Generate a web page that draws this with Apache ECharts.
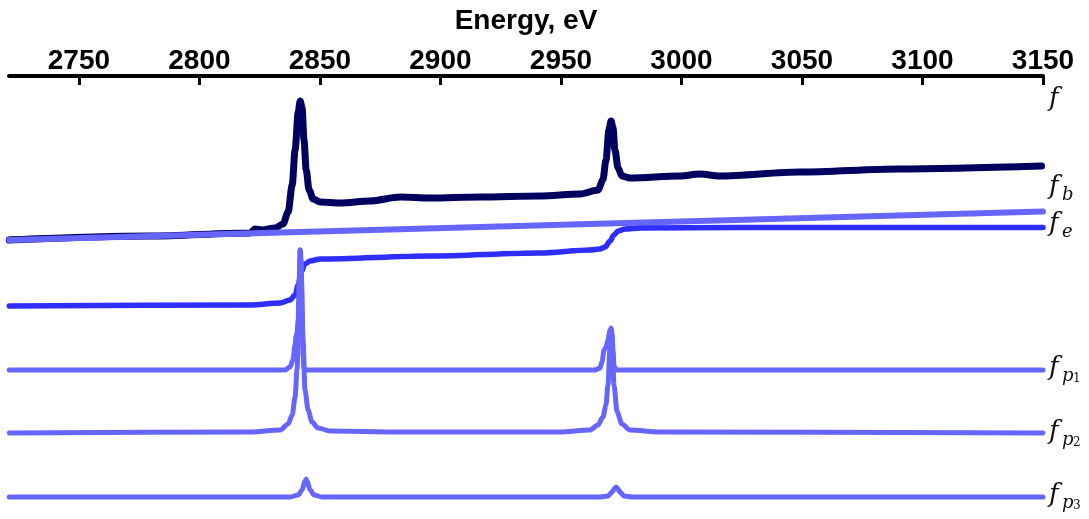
<!DOCTYPE html>
<html>
<head>
<meta charset="utf-8">
<script src="https://cdn.jsdelivr.net/npm/echarts@6/dist/echarts.min.js"></script>
<style>
  html, body { margin: 0; padding: 0; background: #fff; }
  #main { width: 1089px; height: 519px; }
</style>
</head>
<body>
<div id="main"></div>
<script>
// tick labels on the top energy axis
var tickLabels = [2750, 2800, 2850, 2900, 2950, 3000, 3050, 3100, 3150];

var dataE = [2721.1, 2779.6, 2821.0, 2823.1, 2826.0, 2831.4, 2834.7, 2836.8, 2838.5, 2839.7, 2841.0, 2841.8, 2842.6, 2843.4, 2844.3, 2845.5, 2847.2, 2850.1, 2858.4, 2870.8, 2883.3, 2895.7, 2916.4, 2941.3, 2957.9, 2965.4, 2967.4, 2968.7, 2969.9, 2970.8, 2971.6, 2972.4, 2973.7, 2975.3, 2978.6, 2999.4, 3007.6, 3015.9, 3049.1, 3090.6, 3149.4];
var dataV = [272.5, 275.5, 278.5, 283, 281, 283, 287, 298, 325, 360, 398, 409, 402, 370, 340, 320, 310, 306, 305, 308, 315, 313, 313, 314, 316, 320, 330, 350, 380, 389, 382, 360, 342, 334, 332, 335, 338, 335, 338, 341, 344];

// total fit f
var fE = dataE;
var fV = [270, 274, 277, 281, 280, 282, 286, 298, 325, 360, 398, 409, 402, 370, 340, 320, 311, 308, 307, 309, 313, 312, 313, 314, 316, 320, 330, 350, 380, 389, 382, 360, 342, 334, 332, 334, 336, 334, 338, 341, 344];

// background f_b
var fbE = [2721.1, 3150];
var fbV = [270, 298.5];

// edge step f_e
var feE = [2721.1, 2821.0, 2833.5, 2837.6, 2839.7, 2841.0, 2842.2, 2843.8, 2845.9, 2850.1, 2895.7, 2941.3, 2962.0, 2966.2, 2968.3, 2970.4, 2972.0, 2973.7, 2976.6, 2982.8, 3024.2, 3150];
var feV = [204, 205, 207, 210, 215, 225, 238, 246, 249, 251, 254, 257, 260, 261, 263, 269, 275, 279, 281, 282, 282.5, 282.5];

// peak components
var p1E = [2721.1, 2835.5, 2837.6, 2838.8, 2839.7, 2840.1, 2840.5, 2841.0, 2841.4, 2841.8, 2842.2, 2842.6, 2843.0, 2843.4, 2844.3, 2964.1, 2966.2, 2967.0, 2967.9, 2968.7, 2969.5, 2970.4, 2970.8, 2971.2, 2971.6, 2972.0, 2972.9, 3150];
var p1V = [140, 140, 143, 150, 165, 174, 177, 190, 230, 260, 250, 200, 155, 142, 140, 140, 142, 148, 160, 163, 170, 180, 182, 177, 160, 144, 140, 140];

var p2E = [2721.1, 2821.0, 2833.5, 2836.8, 2838.5, 2839.7, 2840.5, 2841.4, 2841.8, 2842.2, 2843.0, 2843.8, 2845.1, 2846.7, 2849.2, 2854.2, 2883.3, 2949.6, 2962.0, 2965.4, 2967.4, 2968.7, 2969.5, 2970.4, 2970.8, 2971.2, 2972.0, 2973.3, 2975.3, 2978.6, 2991.0, 3150];
var p2V = [77, 78, 80, 86, 95, 113, 140, 210, 260, 240, 170, 120, 100, 88, 82, 79, 78, 78, 80, 85, 93, 105, 125, 165, 180, 170, 125, 98, 86, 80, 78, 77];

var p3E = [2721.1, 2837.6, 2841.0, 2842.6, 2843.8, 2844.3, 2844.7, 2845.9, 2847.6, 2850.9, 2966.2, 2969.5, 2971.2, 2972.4, 2972.9, 2973.3, 2974.5, 2976.2, 2979.5, 3150];
var p3V = [13, 13, 15, 20, 29, 31, 29, 20, 15, 13, 13, 14, 18, 22, 23, 22, 18, 14, 13, 13];

function zip(xs, ys) {
    return xs.map(function(x, i) { return [x, ys[i]]; });
}

function line(name, xs, ys, color, width, z) {
    return {
        name: name,
        type: 'line',
        data: zip(xs, ys),
        symbol: 'none',
        smooth: 0.3,
        smoothMonotone: 'x',
        z: z,
        lineStyle: { color: color, width: width, cap: 'round', join: 'round' }
    };
}

// curve labels on the right: [main, sub, subsub, y-center]
var labels = [
    ['f', '', '', 101],
    ['f', 'b', '', 189],
    ['f', 'e', '', 226],
    ['f', 'p', '1', 370],
    ['f', 'p', '2', 434],
    ['f', 'p', '3', 497]
];
var graphics = [];
labels.forEach(function(l) {
    graphics.push({ type: 'text', left: 1049, top: l[3] - 15,
        style: { text: l[0], font: 'italic 26px "DejaVu Serif"', fill: '#111' } });
    if (l[1]) graphics.push({ type: 'text', left: 1062, top: l[3] - 3,
        style: { text: l[1], font: 'italic 18px "DejaVu Serif"', fill: '#111' } });
    if (l[2]) graphics.push({ type: 'text', left: 1073, top: l[3] + 3,
        style: { text: l[2], font: '12px "DejaVu Serif"', fill: '#111' } });
});

var chart = echarts.init(document.getElementById('main'));
var option = {
    animation: false,
    backgroundColor: '#fff',
    grid: { left: 9, right: 46, top: 76, bottom: 9, outerBoundsMode: 'none', containLabel: false },
    xAxis: {
        type: 'value',
        position: 'top',
        min: 2721,
        max: 3150,
        name: 'Energy, eV',
        nameLocation: 'middle',
        nameGap: 41,
        nameMoveOverlap: false,
        nameTextStyle: { fontFamily: 'Liberation Sans', fontWeight: 'bold', fontSize: 28, color: '#000' },
        axisLine: { onZero: false, lineStyle: { color: '#000', width: 4 } },
        axisTick: { inside: true, length: 9, customValues: tickLabels, lineStyle: { color: '#000', width: 3 } },
        axisLabel: {
            customValues: tickLabels,
            formatter: function(v) { return String(v); },
            fontFamily: 'Liberation Sans', fontWeight: 'bold', fontSize: 28, color: '#000', margin: 1
        },
        splitLine: { show: false }
    },
    yAxis: { type: 'value', min: 0, max: 434, show: false, splitLine: { show: false } },
    graphic: graphics,
    series: [
        line('data', dataE, dataV, '#000000', 2, 1),
        line('f', fE, fV, '#00005f', 7, 2),
        line('f_b', fbE, fbV, '#6666ff', 6, 3),
        line('f_e', feE, feV, '#2e2eff', 5.5, 3),
        line('f_p1', p1E, p1V, '#6666ff', 5, 4),
        line('f_p2', p2E, p2V, '#6666ff', 5, 4),
        line('f_p3', p3E, p3V, '#6666ff', 5, 4)
    ]
};
chart.setOption(option);
</script>
</body>
</html>
